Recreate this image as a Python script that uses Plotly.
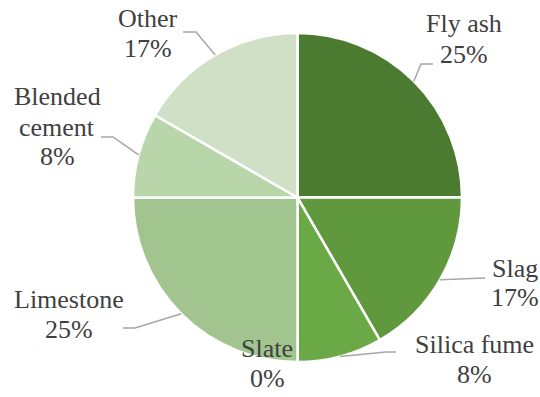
import math
import plotly.graph_objects as go

# Composition of supplementary materials (shares of the total)
materials = ["Fly ash", "Slag", "Silica fume", "Slate", "Limestone", "Blended cement", "Other"]
shares = [3, 2, 1, 0, 3, 1, 2]
colors = ["#4b7a31", "#5f983d", "#6ba846", "#8fbb74", "#a2c58f", "#b9d5aa", "#d0e0c6"]

# Label layout in pixels: name lines, x centre, y centres of name lines, y of percent line
label_lines = {
    "Fly ash": (["Fly ash"], 464, [23], 54),
    "Slag": (["Slag"], 515, [268], 297),
    "Silica fume": (["Silica fume"], 474, [344], 374),
    "Slate": (["Slate"], 267, [348], 378),
    "Limestone": (["Limestone"], 69, [299], 329),
    "Blended cement": (["Blended", "cement"], 57, [96, 127], 157),
    "Other": (["Other"], 148, [19], 49),
}
# Leader-line elbow and end points (px); start point comes from the slice angle
leaders = {
    "Fly ash": [(421, 64), (433, 64)],
    "Slag": [(485, 278)],
    "Silica fume": [(386, 352), (396, 352)],
    "Limestone": [(135, 328), (123, 328)],
    "Blended cement": [(113, 137), (101, 137)],
    "Other": [(196, 32), (183, 32)],
}

W, H = 540, 397
cx, cy, r = 297.5, 197.5, 164.5


def px(x):
    return x / W


def py(y):
    return 1 - y / H


fig = go.Figure(go.Pie(
    labels=materials,
    values=shares,
    sort=False,
    direction="clockwise",
    marker=dict(colors=colors, line=dict(color="white", width=2.5)),
    textinfo="none",
    domain=dict(x=[px(cx - r), px(cx + r)], y=[py(cy + r), py(cy - r)]),
    showlegend=False,
))


def label_font():
    return dict(family="serif", size=26, color="#404040")


total = sum(shares)
annotations = []
shapes = []
cum = 0
for name, v in zip(materials, shares):
    frac = v / total
    mid = (cum + frac / 2) * 2 * math.pi
    cum += frac
    lines, lx, ys, pct_y = label_lines[name]
    texts = list(zip(lines, ys)) + [(f"{round(frac * 100)}%", pct_y)]
    for t, yy in texts:
        annotations.append(dict(x=px(lx), y=py(yy), xref="paper", yref="paper",
                                text=t, showarrow=False, font=label_font(),
                                xanchor="center", yanchor="middle"))
    if name in leaders:
        pts = [(cx + r * math.sin(mid), cy - r * math.cos(mid))] + leaders[name]
        path = "M " + " L ".join(f"{px(a)},{py(b)}" for a, b in pts)
        shapes.append(dict(type="path", path=path, xref="paper", yref="paper",
                           line=dict(color="#a6a6a6", width=1.5)))

fig.update_layout(
    width=W, height=H,
    margin=dict(l=0, r=0, t=0, b=0),
    annotations=annotations,
    shapes=shapes,
)

fig.write_html("out.html")
